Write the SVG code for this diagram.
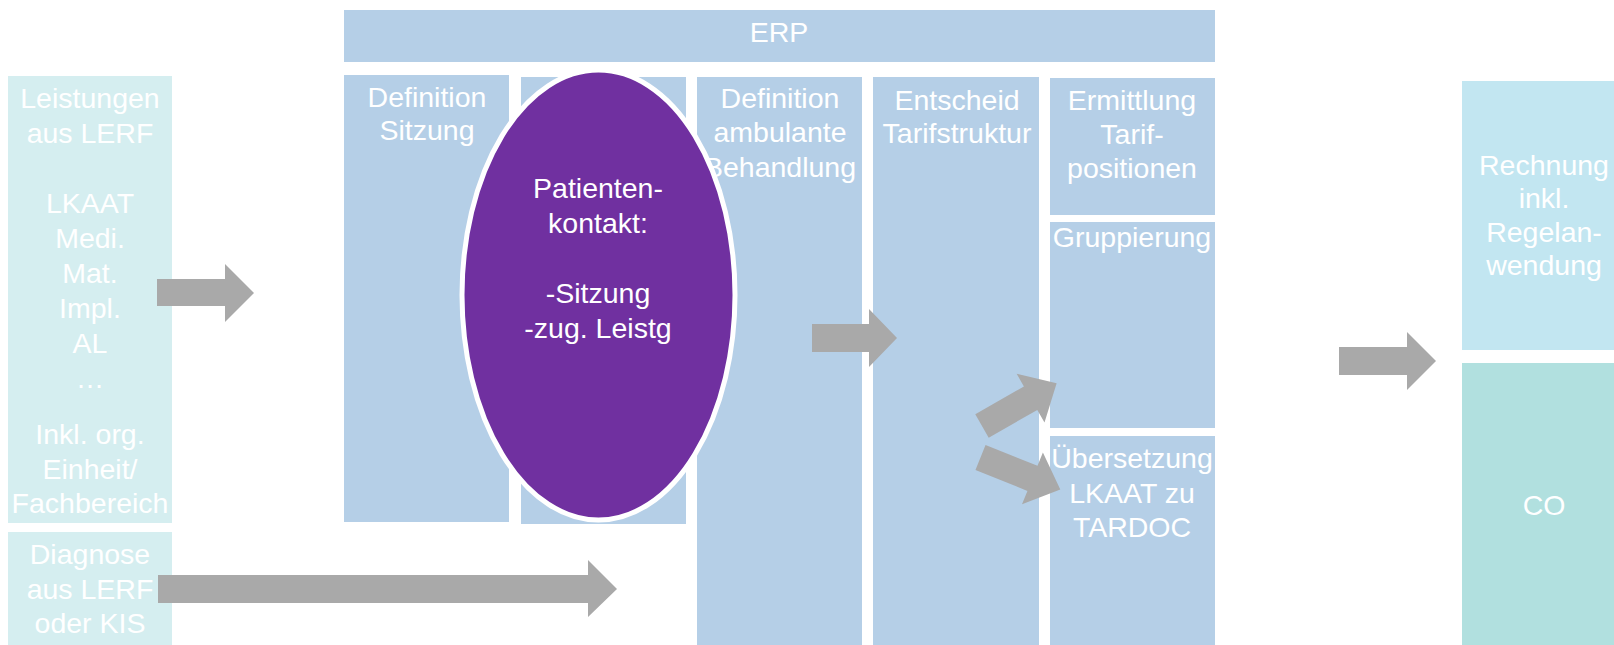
<svg xmlns="http://www.w3.org/2000/svg" width="1614" height="645" viewBox="0 0 1614 645">
<defs>
<style>
.t{font-family:"Liberation Sans",Arial,sans-serif;font-size:28.5px;fill:#FFFFFF;text-anchor:middle}
.erp{fill:#B5CFE7}
.src{fill:#D5EEF0}
.arr{fill:#A9A9A9}
</style>
<path id="diag" d="M0,-13.5 L56,-13.5 L56,-28 L86,0 L56,28 L56,13.5 L0,13.5 Z"/>
</defs>
<rect width="1614" height="645" fill="#FFFFFF"/>

<g id="leistungen">
<rect class="src" x="8" y="76" width="164" height="447"/>
<text class="t" x="90" y="108">Leistungen</text>
<text class="t" x="90" y="143">aus LERF</text>
<text class="t" x="90" y="213">LKAAT</text>
<text class="t" x="90" y="248">Medi.</text>
<text class="t" x="90" y="283">Mat.</text>
<text class="t" x="90" y="318">Impl.</text>
<text class="t" x="90" y="353">AL</text>
<text class="t" x="90" y="388">…</text>
<text class="t" x="90" y="444">Inkl. org.</text>
<text class="t" x="90" y="479">Einheit/</text>
<text class="t" x="90" y="513">Fachbereich</text>
</g>

<g id="diagnose">
<rect class="src" x="8" y="532" width="164" height="113"/>
<text class="t" x="90" y="564">Diagnose</text>
<text class="t" x="90" y="599">aus LERF</text>
<text class="t" x="90" y="633">oder KIS</text>
</g>

<g id="erp">
<rect class="erp" x="344" y="10" width="871" height="52"/>
<text class="t" x="779" y="42">ERP</text>
</g>

<g id="definition-sitzung">
<rect class="erp" x="344" y="75" width="165" height="447"/>
<text class="t" x="427" y="107">Definition</text>
<text class="t" x="427" y="140">Sitzung</text>
</g>

<g id="column-2">
<rect class="erp" x="521" y="77" width="165" height="447"/>
</g>

<g id="definition-ambulante-behandlung">
<rect class="erp" x="697" y="77" width="165" height="568"/>
<text class="t" x="780" y="108">Definition</text>
<text class="t" x="780" y="142">ambulante</text>
<text class="t" x="780" y="177">Behandlung</text>
</g>

<g id="entscheid-tarifstruktur">
<rect class="erp" x="873" y="77" width="166" height="568"/>
<text class="t" x="957" y="110">Entscheid</text>
<text class="t" x="957" y="143">Tarifstruktur</text>
</g>

<g id="ermittlung">
<rect class="erp" x="1050" y="78" width="165" height="137"/>
<text class="t" x="1132" y="110">Ermittlung</text>
<text class="t" x="1132" y="144">Tarif-</text>
<text class="t" x="1132" y="178">positionen</text>
</g>

<g id="gruppierung">
<rect class="erp" x="1050" y="222" width="165" height="206"/>
<text class="t" x="1132" y="247">Gruppierung</text>
</g>

<g id="uebersetzung">
<rect class="erp" x="1050" y="436" width="165" height="209"/>
<text class="t" x="1132" y="468">Übersetzung</text>
<text class="t" x="1132" y="503">LKAAT zu</text>
<text class="t" x="1132" y="537">TARDOC</text>
</g>

<g id="patientenkontakt">
<ellipse cx="598.5" cy="295" rx="136.5" ry="225" fill="#7030A0" stroke="#FFFFFF" stroke-width="5"/>
<text class="t" x="598" y="198">Patienten-</text>
<text class="t" x="598" y="233">kontakt:</text>
<text class="t" x="598" y="303">-Sitzung</text>
<text class="t" x="598" y="338">-zug. Leistg</text>
</g>

<g id="rechnung">
<rect x="1462" y="81" width="152" height="269" fill="#C2E6F1"/>
<text class="t" x="1544" y="175">Rechnung</text>
<text class="t" x="1544" y="208">inkl.</text>
<text class="t" x="1544" y="242">Regelan-</text>
<text class="t" x="1544" y="275">wendung</text>
</g>

<g id="co">
<rect x="1462" y="363" width="152" height="282" fill="#B1E0DF"/>
<text class="t" x="1544" y="515">CO</text>
</g>

<g id="connectors">
<polygon class="arr" points="157,279 225,279 225,264 254,293 225,322 225,306 157,306"/>
<polygon class="arr" points="158,575 588,575 588,560 617,589 588,617 588,603 158,603"/>
<polygon class="arr" points="812,324 869,324 869,309 897,338 869,367 869,352 812,352"/>
<polygon class="arr" points="1339,347 1407,347 1407,332 1436,361 1407,390 1407,375 1339,375"/>
<use href="#diag" class="arr" transform="translate(982,426) rotate(-29.8)"/>
<use href="#diag" class="arr" transform="translate(980.5,457.5) rotate(21.9)"/>
</g>
</svg>
